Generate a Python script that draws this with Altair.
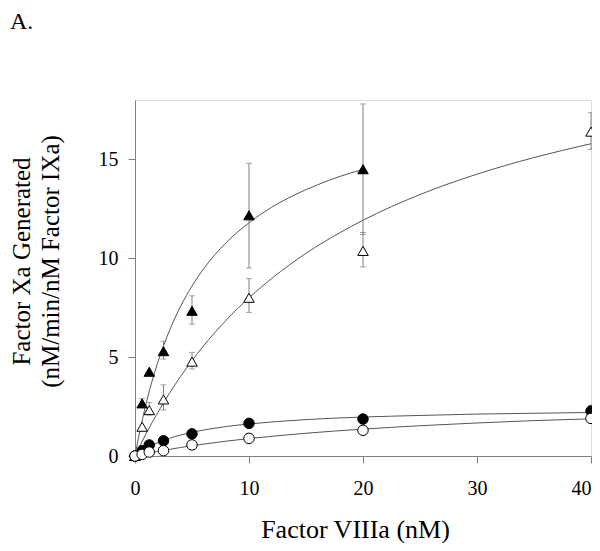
import altair as alt
import pandas as pd

# ---- data ----
series = ["filled triangle", "open triangle", "filled circle", "open circle"]
x_obs = [0, 0.625, 1.25, 2.5, 5, 10, 20, 40]
y_ft = [0, 2.66, 4.26, 5.3, 7.34, 12.17, 14.5, None]
y_ot = [0, 1.48, 2.32, 2.86, 4.77, 8.0, 10.37, 16.4]
y_fc = [0, 0.27, 0.56, 0.77, 1.12, 1.65, 1.87, 2.27]
y_oc = [0, 0.08, 0.2, 0.27, 0.56, 0.89, 1.3, 1.9]

lo_ft = [None, 2.5, None, 4.9, 6.67, 9.5, 11.2, None]
hi_ft = [None, 2.9, None, 5.8, 8.1, 14.8, 17.8, None]
lo_ot = [None, None, 2.07, 2.32, 4.4, 7.26, 9.56, 15.5]
hi_ot = [None, None, 2.7, 3.6, 5.24, 8.97, 11.3, 17.36]
lo_fc = [None, None, None, None, None, None, None, 1.97]
hi_fc = [None, None, None, None, None, None, None, 2.57]
lo_oc = [None] * 8
hi_oc = [None] * 8

# fitted curves
cx_ft = [0, 0.5, 1, 1.5, 2, 3, 4, 5, 6, 8, 10, 12, 14, 16, 18, 20]
cy_ft = [0, 1.46, 2.71, 3.79, 4.74, 6.31, 7.57, 8.59, 9.45, 10.79, 11.79, 12.58, 13.20, 13.71, 14.14, 14.49]
cx_ot = [0, 1, 2, 3, 4, 5, 6, 8, 10, 12, 15, 18, 20, 25, 30, 35, 40]
cy_ot = [0, 1.16, 2.20, 3.15, 4.02, 4.82, 5.56, 6.87, 8.00, 8.98, 10.25, 11.30, 11.92, 13.22, 14.25, 15.09, 15.79]
cx_c = [0, 1, 2, 3, 4, 5, 6, 8, 10, 15, 20, 25, 30, 35, 40]
cy_fc = [0, 0.39, 0.67, 0.89, 1.06, 1.20, 1.31, 1.49, 1.62, 1.84, 1.97, 2.05, 2.12, 2.16, 2.20]
cy_oc = [0, 0.12, 0.23, 0.33, 0.43, 0.52, 0.60, 0.75, 0.88, 1.15, 1.36, 1.53, 1.67, 1.79, 1.88]

x_ticks = [0, 10, 20, 30, 40]
y_ticks = [0, 5, 10, 15]
panel_label = ["A."]
x_title = "Factor VIIIa (nM)"
y_title = ["Factor Xa Generated", "(nM/min/nM Factor IXa)"]

# ---- tables ----
rows = []
for s, ys, los, his in zip(series, [y_ft, y_ot, y_fc, y_oc],
                           [lo_ft, lo_ot, lo_fc, lo_oc], [hi_ft, hi_ot, hi_fc, hi_oc]):
    for x, y, lo, hi in zip(x_obs, ys, los, his):
        if y is not None:
            rows.append({"series": s, "x": x, "y": y, "lo": lo, "hi": hi})
obs = pd.DataFrame(rows)
err = obs.dropna(subset=["lo", "hi"])

crows = []
for s, cx, cy in [(series[0], cx_ft, cy_ft), (series[1], cx_ot, cy_ot),
                  (series[2], cx_c, cy_fc), (series[3], cx_c, cy_oc)]:
    for x, y in zip(cx, cy):
        crows.append({"series": s, "x": x, "y": y})
curves = pd.DataFrame(crows)

FONT = "Liberation Serif"
xscale = alt.Scale(domain=[0, 40], nice=False, zero=False)
yscale = alt.Scale(domain=[0, 18], nice=False)

xaxis = alt.Axis(values=x_ticks, title=x_title, grid=False, domainColor="#808080",
                 tickColor="#808080", tickSize=7, labelFont=FONT, labelFontSize=20,
                 labelColor="black", labelPadding=15, labelFlush=False,
                 labelAlign={"expr": "datum.value === 40 ? 'right' : 'center'"},
                 titleFont=FONT, titleFontSize=26, titleFontWeight="normal",
                 titleColor="black", titleX=220, titleY=81, titleAlign="center",
                 titleBaseline="alphabetic")
yaxis = alt.Axis(values=y_ticks, title=y_title, grid=False, domainColor="#808080",
                 tickColor="#808080", tickSize=7, labelFont=FONT, labelFontSize=20,
                 labelColor="black", labelPadding=10, labelFlush=False,
                 titleFont=FONT, titleFontSize=25, titleFontWeight="normal",
                 titleColor="black", titleAngle=270, titleX=-106, titleY=161,
                 titleAlign="center", titleBaseline="alphabetic", titleLineHeight=29)

line_layer = alt.Chart(curves).mark_line(color="#555555", strokeWidth=1, interpolate="monotone").encode(
    x=alt.X("x:Q", scale=xscale, axis=xaxis),
    y=alt.Y("y:Q", scale=yscale, axis=yaxis),
    detail="series:N",
)

err_rule = alt.Chart(err).mark_rule(color="#808080", strokeWidth=1).encode(
    x="x:Q", y="lo:Q", y2="hi:Q"
)
cap_lo = alt.Chart(err).mark_tick(color="#808080", thickness=1, size=6, orient="horizontal").encode(
    x="x:Q", y="lo:Q"
)
cap_hi = alt.Chart(err).mark_tick(color="#808080", thickness=1, size=6, orient="horizontal").encode(
    x="x:Q", y="hi:Q"
)

points = alt.Chart(obs).mark_point(filled=True, stroke="black", strokeWidth=1, opacity=1).encode(
    x="x:Q",
    y="y:Q",
    shape=alt.Shape("series:N", scale=alt.Scale(domain=series,
                    range=["triangle-up", "triangle-up", "circle", "circle"]), legend=None),
    fill=alt.Fill("series:N", scale=alt.Scale(domain=series,
                  range=["black", "white", "black", "white"]), legend=None),
    size=alt.Size("series:N", scale=alt.Scale(domain=series, range=[110, 110, 85, 85]), legend=None),
)

label = alt.Chart(pd.DataFrame({"t": panel_label})).mark_text(
    font=FONT, fontSize=24, align="left", baseline="alphabetic", color="black"
).encode(x=alt.value(-125), y=alt.value(-71), text="t:N")

chart = alt.layer(line_layer, err_rule, cap_lo, cap_hi, points, label).properties(
    width=456, height=356,
    autosize=alt.AutoSizeParams(type="none"),
    padding={"left": 127, "top": 92, "right": 1, "bottom": 87},
).configure_view(stroke=None).configure(background="white")

chart.save("out.html", embed_options={"renderer": "svg", "actions": False})
